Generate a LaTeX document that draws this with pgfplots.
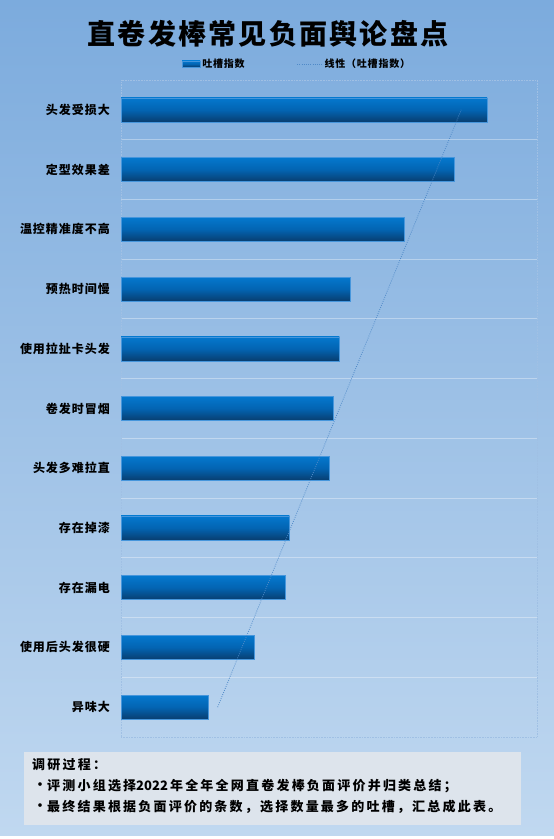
\documentclass[border=0pt]{standalone}
\usepackage{pgfplots}
\usepackage{pgfplotstable}
\pgfplotsset{compat=1.18}
\usepackage{fontspec}
\setmainfont{Noto Sans CJK SC}
\newfontfamily\cjkls[LetterSpace=8]{Noto Sans CJK SC}
\newfontfamily\cjkbox[LetterSpace=17]{Noto Sans CJK SC}

\definecolor{bgTop}{RGB}{124,171,221}
\definecolor{bgBot}{RGB}{192,216,240}
\definecolor{boxFill}{RGB}{221,228,236}
\definecolor{barTop}{RGB}{4,120,206}
\definecolor{barMid}{RGB}{3,100,178}
\definecolor{barBot}{RGB}{8,62,112}
\definecolor{barEdge}{RGB}{70,150,220}
\definecolor{trendCol}{RGB}{80,138,200}
\definecolor{frameCol}{RGB}{160,192,228}

\newcommand\titlefont{\cjkls\bfseries\fontsize{28bp}{32bp}\selectfont}
\newcommand\labfont{\cjkls\bfseries\fontsize{12bp}{14bp}\selectfont}
\newcommand\legfont{\cjkls\bfseries\fontsize{10bp}{12bp}\selectfont}
\newcommand\boxfont{\cjkbox\bfseries\fontsize{13bp}{15bp}\selectfont}
\newcommand\boxdigits{\normalfont\bfseries\fontsize{13bp}{15bp}\selectfont}

\pgfplotsset{
    barleg/.style={legend image code/.code={\draw[##1] (0bp,-3bp) rectangle (18bp,3bp);}},
    lineleg/.style={legend image code/.code={\draw[##1] (0bp,0bp) -- (25bp,0bp);}},
    barsty/.style={xbar, bar width=24bp, bar shift=0pt,
        top color=barTop, bottom color=barBot, middle color=barMid,
        draw=barEdge, line width=0.5bp},
}

% complaint index per category, 1 = bottom bar
\pgfplotstableread{
idx val
1 21
2 32
3 39.5
4 40.5
5 50
6 51
7 52.5
8 55
9 68
10 80
11 88
}\data
\pgfplotstablecreatecol[linear regression={x=idx,y=val}]{trend}{\data}

\begin{document}
\begin{tikzpicture}
\useasboundingbox (0,0) rectangle (554bp,839bp);
\fill[white] (0,0) rectangle (554bp,839bp);
\shade[top color=bgTop, bottom color=bgBot] (0,3bp) rectangle (554bp,839bp);

\node[anchor=center, inner sep=0pt] at (268bp,805bp) {\titlefont 直卷发棒常见负面舆论盘点};

\fill[boxFill] (24bp,14bp) rectangle (521bp,87bp);
\node[anchor=west, inner sep=0pt] at (32bp,74bp) {\boxfont 调研过程：};
\node[anchor=center, inner sep=0pt] at (40bp,53bp) {\boxfont •};
\node[anchor=west, inner sep=0pt] at (47bp,53bp) {\boxfont 评测小组选择{\boxdigits 2022}\,年全年全网直卷发棒负面评价并归类总结；};
\node[anchor=center, inner sep=0pt] at (40bp,32bp) {\boxfont •};
\node[anchor=west, inner sep=0pt] at (47bp,32bp) {\boxfont 最终结果根据负面评价的条数，选择数量最多的吐槽，汇总成此表。};

\begin{axis}[
    at={(121bp,102bp)}, anchor=south west,
    scale only axis, width=416bp, height=657bp,
    xmin=0, xmax=100, ymin=0.5, ymax=11.5,
    xtick=\empty,
    ytick={1,...,11},
    yticklabels={异味大,使用后头发很硬,存在漏电,存在掉漆,头发多难拉直,卷发时冒烟,使用拉扯卡头发,预热时间慢,温控精准度不高,定型效果差,头发受损大},
    yticklabel style={font=\labfont, inner sep=0pt, xshift=-11bp},
    major tick length=0pt, minor tick length=0pt,
    minor ytick={1.5,2.5,...,10.5},
    yminorgrids,
    minor grid style={white, opacity=0.35, line width=0.9bp},
    axis line style={frameCol, densely dotted, line width=0.6bp},
    legend style={at={(0.423,1.0244)}, anchor=center, draw=none, fill=none,
        font=\legfont, legend columns=2,
        /tikz/every even column/.append style={column sep=50bp}},
]
\addlegendimage{barsty, barleg}
\addlegendentry{吐槽指数}
% one plot per bar so that each bar gets its own gradient
\pgfplotsinvokeforeach{1,...,11}{
    \addplot[barsty, forget plot, y filter/.expression={abs(y-#1)<0.1 ? y : nan}]
        table[x=val, y=idx]{\data};
}
\addplot[trendCol, line width=0.8bp, dash pattern=on 0.8bp off 1.4bp, mark=none, lineleg]
    table[x=trend, y=idx]{\data};
\addlegendentry{线性（吐槽指数）}
\end{axis}
\end{tikzpicture}
\end{document}
